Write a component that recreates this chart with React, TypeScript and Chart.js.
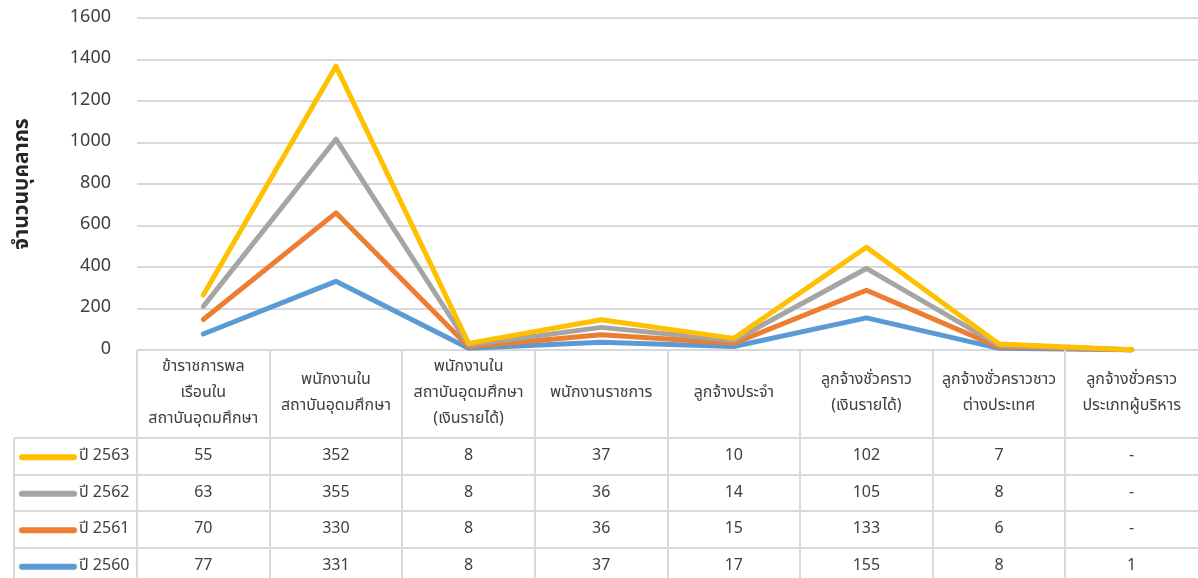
import React, { useEffect, useRef } from 'react';
import { Chart, registerables } from 'chart.js';

Chart.register(...registerables);

const categories: string[][] = [
  ['ข้าราชการพล', 'เรือนใน', 'สถาบันอุดมศึกษา'],
  ['พนักงานใน', 'สถาบันอุดมศึกษา'],
  ['พนักงานใน', 'สถาบันอุดมศึกษา', '(เงินรายได้)'],
  ['พนักงานราชการ'],
  ['ลูกจ้างประจำ'],
  ['ลูกจ้างชั่วคราว', '(เงินรายได้)'],
  ['ลูกจ้างชั่วคราวชาว', 'ต่างประเทศ'],
  ['ลูกจ้างชั่วคราว', 'ประเภทผู้บริหาร'],
];

const seriesNames = ['ปี 2560', 'ปี 2561', 'ปี 2562', 'ปี 2563'];
const v2560: (number | null)[] = [77, 331, 8, 37, 17, 155, 8, 1];
const v2561: (number | null)[] = [70, 330, 8, 36, 15, 133, 6, null];
const v2562: (number | null)[] = [63, 355, 8, 36, 14, 105, 8, null];
const v2563: (number | null)[] = [55, 352, 8, 37, 10, 102, 7, null];
const seriesValues = [v2560, v2561, v2562, v2563];
const seriesColors = ['#5B9BD5', '#ED7D31', '#A5A5A5', '#FFC000'];

const yMin = 0;
const yMax = 1600;
const yStep = 200;
const yTitle = 'จำนวนบุคลากร';

const FONT = "Tahoma, 'Leelawadee UI', 'Noto Sans Thai', 'Noto Sans', sans-serif";

const drawOrderPlugin = {
  id: 'drawOrder',
  beforeDatasetDraw() {
    return false;
  },
  afterDatasetsDraw(chart: any) {
    const ctx = chart.ctx;
    ctx.save();
    for (let i = 0; i < chart.data.datasets.length; i++) {
      chart.getDatasetMeta(i).controller.draw();
    }
    ctx.restore();
  },
};

const tablePlugin = {
  id: 'dataTable',
  afterDraw(chart: any) {
    const ctx = chart.ctx as CanvasRenderingContext2D;
    const area = chart.chartArea;
    const xs = chart.scales.x;
    const n = categories.length;
    const colW = area.width / n;
    const top = area.bottom;
    const headerH = 88;
    const rowH = 36.5;
    const H = chart.height;
    const legendLeft = 14;

    ctx.save();
    ctx.strokeStyle = '#D9D9D9';
    ctx.lineWidth = 2;
    const line = (x1: number, y1: number, x2: number, y2: number) => {
      ctx.beginPath();
      ctx.moveTo(x1, y1);
      ctx.lineTo(x2, y2);
      ctx.stroke();
    };
    for (let i = 0; i < n; i++) {
      const x = Math.round(xs.getPixelForValue(i) - colW / 2);
      line(x, top, x, H);
    }
    line(legendLeft, top + headerH, legendLeft, H);
    for (let r = 0; r < 4; r++) {
      const y = Math.round(top + headerH + r * rowH);
      line(legendLeft, y, area.right, y);
    }

    ctx.fillStyle = '#404040';
    ctx.textAlign = 'center';
    ctx.textBaseline = 'middle';
    ctx.font = `16px ${FONT}`;
    const lh = 26;
    const hc = top + headerH / 2;
    for (let i = 0; i < n; i++) {
      const cx = xs.getPixelForValue(i);
      const lines = categories[i];
      const y0 = hc - ((lines.length - 1) * lh) / 2;
      lines.forEach((t, k) => ctx.fillText(t, cx, y0 + k * lh));
    }

    const rowOrder = [3, 2, 1, 0];
    rowOrder.forEach((ds, r) => {
      const cy = top + headerH + r * rowH + rowH / 2 + 1;
      ctx.font = `16px ${FONT}`;
      ctx.fillStyle = '#404040';
      ctx.textAlign = 'center';
      for (let i = 0; i < n; i++) {
        const v = seriesValues[ds][i];
        ctx.fillText(v === null ? '-' : String(v), xs.getPixelForValue(i), cy);
      }
      ctx.strokeStyle = seriesColors[ds];
      ctx.lineWidth = 6;
      ctx.lineCap = 'round';
      ctx.beginPath();
      ctx.moveTo(22, cy);
      ctx.lineTo(74, cy);
      ctx.stroke();
      ctx.textAlign = 'left';
      ctx.fillText(seriesNames[ds], 79, cy);
    });

    ctx.save();
    ctx.translate(24, 184);
    ctx.rotate(-Math.PI / 2);
    ctx.font = `bold 21px ${FONT}`;
    ctx.fillStyle = '#262626';
    ctx.textAlign = 'center';
    ctx.textBaseline = 'middle';
    ctx.fillText(yTitle, 0, 0);
    ctx.restore();

    ctx.restore();
  },
};

export default function App() {
  const ref = useRef<HTMLCanvasElement>(null);
  useEffect(() => {
    if (!ref.current) return;
    const chart = new Chart(ref.current, {
      type: 'line',
      data: {
        labels: categories.map((c) => c.join(' ')),
        datasets: seriesValues.map((vals, i) => ({
          label: seriesNames[i],
          data: vals.map((v) => (v === null ? 0 : v)),
          borderColor: seriesColors[i],
          backgroundColor: seriesColors[i],
          borderWidth: 5,
          borderCapStyle: 'round' as const,
          borderJoinStyle: 'round' as const,
          pointRadius: 0,
          tension: 0,
          fill: false,
        })),
      },
      options: {
        animation: false,
        responsive: false,
        layout: { padding: { top: 18, bottom: 228, left: 0, right: 0 } },
        plugins: { legend: { display: false }, tooltip: { enabled: false } },
        scales: {
          x: { display: false, offset: true, stacked: true },
          y: {
            stacked: true,
            min: yMin,
            max: yMax,
            ticks: {
              stepSize: yStep,
              padding: 0,
              color: '#404040',
              font: { size: 18, family: FONT },
              callback: (v: any) => String(v),
            },
            grid: {
              color: '#D9D9D9',
              lineWidth: 2,
              drawTicks: true,
              tickLength: 26,
              tickColor: 'rgba(0,0,0,0)',
            },
            border: { display: false },
            afterFit: (s: any) => {
              s.width = 137;
            },
          },
        },
      },
      plugins: [drawOrderPlugin, tablePlugin],
    });
    return () => chart.destroy();
  }, []);
  return (
    <div style={{ position: 'absolute', left: 0, top: 0, width: 1198, height: 578, background: '#fff' }}>
      <canvas ref={ref} width={1198} height={578} style={{ display: 'block' }} />
    </div>
  );
}
